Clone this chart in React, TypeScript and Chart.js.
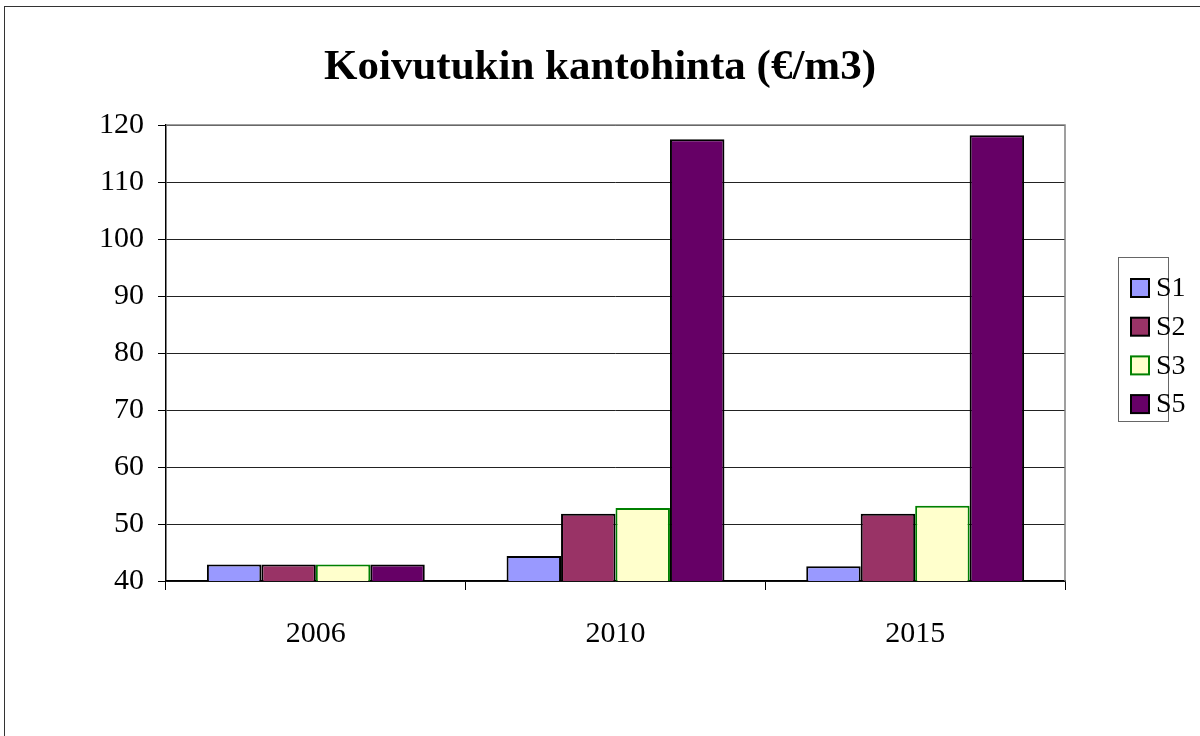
import React, { useEffect, useRef } from "react";
import { Chart, registerables } from "chart.js";

Chart.register(...registerables);

const title = "Koivutukin kantohinta (€/m3)";
const categories = ["2006", "2010", "2015"];
const seriesNames = ["S1", "S2", "S3", "S5"];
const s1Values = [42.9, 44.4, 42.6];
const s2Values = [42.9, 51.8, 51.8];
const s3Values = [42.9, 52.8, 53.2];
const s5Values = [42.9, 117.5, 118.2];
const fillColors = ["#9999FF", "#993366", "#FFFFCC", "#660066"];
const edgeColors = ["#000000", "#000000", "#008000", "#000000"];
const yMin = 40;
const yMax = 120;
const yStep = 10;

const FONT = "'Liberation Serif', 'Times New Roman', serif";

const frameAndLegend = {
  id: "frameAndLegend",
  afterDraw(chart: any) {
    const ctx = chart.ctx;
    const a = chart.chartArea;
    ctx.save();
    // title centred on the whole canvas
    ctx.fillStyle = "#000";
    ctx.font = `bold 43px ${FONT}`;
    ctx.textAlign = "center";
    ctx.textBaseline = "middle";
    ctx.fillText(chart.options.plugins.title.text, 600, 68);

    // plot area top/right border in gray
    ctx.strokeStyle = "#808080";
    ctx.lineWidth = 1.5;
    ctx.beginPath();
    ctx.moveTo(a.left, a.top);
    ctx.lineTo(a.right, a.top);
    ctx.lineTo(a.right, a.bottom);
    ctx.stroke();

    // legend box
    const bx = 1118.5;
    const by = 257.5;
    const bw = 50;
    const bh = 164;
    ctx.fillStyle = "#ffffff";
    ctx.fillRect(bx, by, bw, bh);
    ctx.strokeStyle = "#666666";
    ctx.lineWidth = 1;
    ctx.strokeRect(bx, by, bw, bh);
    const ds = chart.data.datasets;
    ctx.font = `28px ${FONT}`;
    ctx.textBaseline = "middle";
    ctx.textAlign = "left";
    for (let i = 0; i < ds.length; i++) {
      const cy = 288 + i * 38.7;
      ctx.fillStyle = ds[i].backgroundColor;
      ctx.fillRect(1131, cy - 9, 18, 18);
      ctx.strokeStyle = ds[i].borderColor;
      ctx.lineWidth = 2;
      ctx.strokeRect(1131, cy - 9, 18, 18);
      ctx.fillStyle = "#000";
      ctx.fillText(ds[i].label, 1156, cy + 1);
    }
    ctx.restore();
  },
};

export default function App() {
  const ref = useRef<HTMLCanvasElement | null>(null);
  useEffect(() => {
    if (!ref.current) return;
    const values = [s1Values, s2Values, s3Values, s5Values];
    const chart = new Chart(ref.current, {
      type: "bar",
      data: {
        labels: categories,
        datasets: seriesNames.map((name, i) => ({
          label: name,
          data: values[i],
          backgroundColor: fillColors[i],
          borderColor: edgeColors[i],
          borderWidth: 2,
          categoryPercentage: 0.727,
          barPercentage: 1.0,
        })),
      },
      options: {
        animation: false,
        responsive: false,
        maintainAspectRatio: false,
        layout: { padding: { left: 0, right: 135, top: 125, bottom: 0 } },
        plugins: {
          legend: { display: false },
          tooltip: { enabled: false },
          title: {
            display: false,
            text: title,
          },
        },
        scales: {
          x: {
            offset: true,
            grid: {
              offset: true,
              drawOnChartArea: false,
              drawTicks: true,
              tickLength: 9,
              tickColor: "#000",
              tickWidth: 1,
            },
            border: { display: true, color: "#000", width: 1.5 },
            ticks: {
              color: "#000",
              font: { family: FONT, size: 30 },
              padding: 26,
            },
            afterFit(scale: any) {
              scale.height = 155;
            },
          },
          y: {
            min: yMin,
            max: yMax,
            grid: {
              color: "#222",
              lineWidth: 1,
              drawTicks: true,
              tickLength: 8,
              tickColor: "#000",
            },
            border: { display: true, color: "#000", width: 1.5 },
            ticks: {
              stepSize: yStep,
              color: "#000",
              font: { family: FONT, size: 30 },
              padding: 14,
            },
            afterFit(scale: any) {
              scale.width = 166;
            },
          },
        },
      },
      plugins: [frameAndLegend],
    });
    return () => chart.destroy();
  }, []);

  return (
    <div
      style={{
        position: "fixed",
        left: 0,
        top: 0,
        width: 1200,
        height: 736,
        background: "#fff",
        overflow: "hidden",
      }}
    >
      <div
        style={{
          position: "absolute",
          left: 4,
          top: 6,
          width: 1300,
          height: 900,
          borderLeft: "1.5px solid #333",
          borderTop: "1.5px solid #333",
        }}
      />
      <canvas
        ref={ref}
        width={1200}
        height={736}
        style={{ position: "absolute", left: 0, top: 0, width: 1200, height: 736 }}
      />
    </div>
  );
}
